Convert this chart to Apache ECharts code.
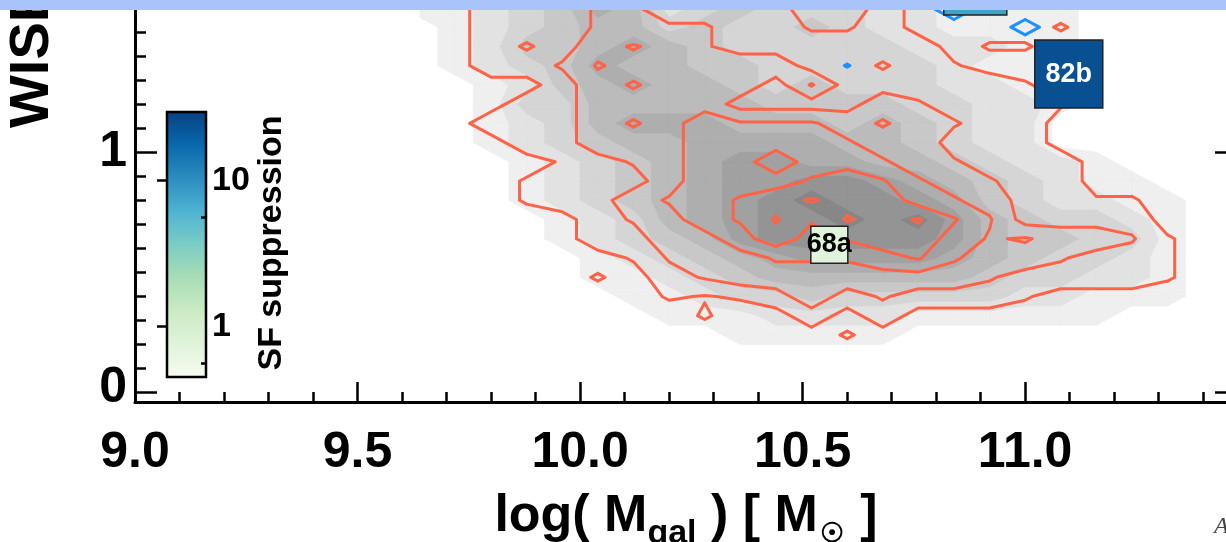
<!DOCTYPE html>
<html>
<head>
<meta charset="utf-8">
<title>SF suppression contours</title>
<script src="https://cdn.jsdelivr.net/npm/echarts@6.0.0/dist/echarts.min.js"></script>
<style>
html,body{margin:0;padding:0;background:#ffffff;}
#chart{width:1226px;height:542px;}
</style>
</head>
<body>
<div id="chart"></div>
<script>
// ================= DATA =================
const xTickLabels = [9.0, 9.5, 10.0, 10.5, 11.0];
const xMinorTicks = [9.1,9.2,9.3,9.4,9.6,9.7,9.8,9.9,10.1,10.2,10.3,10.4,10.6,10.7,10.8,10.9,11.1,11.2,11.3,11.4];
const yTickLabels = [0, 1];
const yMinorTicks = [0.1,0.2,0.3,0.4,0.5,0.6,0.7,0.8,0.9,1.1,1.2,1.3,1.4,1.5,1.6];
const sfTickLabels = [1, 10];
const sfMinorTicks = [0.56, 5.6];

// histogram grid nodes (log M_gal columns, WISE colour rows from top to bottom)
const nodeMass = [9.64,9.72,9.80,9.88,9.96,10.04,10.12,10.20,10.28,10.36,10.44,10.52,10.60,10.68,10.76,10.84,10.92,11.00,11.08,11.16,11.24,11.32,11.40,11.48];
const nodeColour = [1.68,1.60,1.52,1.44,1.36,1.28,1.20,1.12,1.04,0.96,0.88,0.80,0.72,0.64,0.56,0.48,0.40,0.32,0.24,0.16,0.08,0.00];

// parent sample density (grey filled contours)
const greyDensity = [
 [1,1,2,3,4,6,5,2,3,4,3,3,3,2,2,1,1,1,1,0,0,0,0,0],
 [1,1,2,3,4,6,5,2,3,4,3,3,3,2,2,1,1,1,1,0,0,0,0,0],
 [0,1,2,3,4,5,5,3,4,3,3,4,3,2,2,1,1,1,1,0,0,0,0,0],
 [0,1,2,4,4,5,6,5,4,3,3,3,3,3,2,2,2,1,1,0,0,0,0,0],
 [0,1,2,3,4,6,5,5,4,4,3,3,3,3,3,2,1,1,1,0,0,0,0,0],
 [0,0,1,2,4,5,6,5,5,4,3,4,3,3,3,2,2,1,1,0,0,0,0,0],
 [0,0,1,3,3,5,5,5,5,5,4,4,4,4,3,3,2,2,1,0,0,0,0,0],
 [0,0,1,2,3,5,6,6,6,5,5,5,4,5,4,3,2,2,0,0,0,0,0,0],
 [0,0,1,2,3,4,5,5,6,6,6,6,5,5,4,3,2,2,0,0,0,0,0,0],
 [0,0,0,1,2,3,4,5,6,7,7,6,6,5,5,4,3,2,2,1,0,0,0,0],
 [0,0,0,1,2,3,4,5,6,7,7,8,8,7,6,5,4,3,2,1,1,0,0,0],
 [0,0,0,1,2,3,4,5,6,7,8,9,8,8,7,6,4,3,2,2,1,1,0,0],
 [0,0,0,0,1,2,3,5,6,7,8,8,9,8,9,7,5,4,3,3,2,1,0,0],
 [0,0,0,0,1,2,3,4,5,7,8,8,8,8,8,7,5,4,4,3,3,1,0,0],
 [0,0,0,0,0,1,2,3,4,5,6,7,7,7,7,6,5,4,3,3,2,1,0,0],
 [0,0,0,0,0,1,1,2,3,4,5,5,5,5,5,5,4,3,3,2,2,1,0,0],
 [0,0,0,0,0,0,1,1,2,3,3,4,3,3,3,3,3,2,2,1,1,1,0,0],
 [0,0,0,0,0,0,0,1,1,1,2,2,2,2,1,1,1,1,1,1,0,0,0,0],
 [0,0,0,0,0,0,0,0,0,1,1,1,1,1,0,0,0,0,0,0,0,0,0,0],
 [0,0,0,0,0,0,0,0,0,0,0,0,0,0,0,0,0,0,0,0,0,0,0,0],
 [0,0,0,0,0,0,0,0,0,0,0,0,0,0,0,0,0,0,0,0,0,0,0,0],
 [0,0,0,0,0,0,0,0,0,0,0,0,0,0,0,0,0,0,0,0,0,0,0,0]
];

// comparison sample density (red contour lines)
const redDensity = [
 [0,0,2,2,2,3,3,2,2,2,2,4,4,2,0,0,0,0,0,0,0,0,0,0],
 [0,0,2,2,2,3,3,2,2,2,2,4,4,2,0,0,0,0,0,0,0,0,0,0],
 [0,0,2,2,2,3,3,3,3,2,2,3,3,2,0,0,0,0,1,0,0,0,0,0],
 [0,0,2,3,2,4,5,4,3,2,2,2,2,2,2,0,1,1,0,0,0,0,0,0],
 [0,0,2,2,3,5,4,4,4,4,4,2,2,3,2,1,0,0,0,0,0,0,0,0],
 [0,0,0,0,2,4,5,4,4,4,2,5,2,2,2,2,2,1,0,0,0,0,0,0],
 [0,0,0,2,2,4,4,4,4,2,2,2,2,4,3,2,2,2,1,0,0,0,0,0],
 [0,0,2,2,2,4,5,4,6,5,5,5,4,5,4,3,2,2,0,0,0,0,0,0],
 [0,0,0,2,2,4,4,4,6,5,6,6,5,4,4,2,2,2,0,0,0,0,0,0],
 [0,0,0,0,1,2,3,4,6,6,8,6,6,5,4,3,2,2,2,0,0,0,0,0],
 [0,0,0,1,2,2,2,4,6,6,6,7,8,7,5,4,3,2,2,0,0,0,0,0],
 [0,0,0,1,2,2,4,5,6,7,8,9,8,8,6,5,4,2,2,1,1,0,0,0],
 [0,0,0,0,0,2,3,4,6,7,9,7,9,8,9,7,5,2,2,2,2,0,0,0],
 [0,0,0,0,0,2,2,4,4,6,8,6,7,8,8,6,4.6,5,4,4,3,1,0,0],
 [0,0,0,0,0,0,1,3,4,4,5,5,5,6,7,5,4,4,3,2,2,1,0,0],
 [0,0,0,0,0,1,0,2,3,4,4,4,4,4,4,4,3,2,2,2,2,1,0,0],
 [0,0,0,0,0,0,0,1,0.7,1,2,4,2,3,2,2,2,1,0,0,0,0,0,0],
 [0,0,0,0,0,0,0,0,1,0,0,2,0,2,0,0,0,0,0,0,0,0,0,0],
 [0,0,0,0,0,0,0,0,0,0,0,0,1,0,0,0,0,0,0,0,0,0,0,0],
 [0,0,0,0,0,0,0,0,0,0,0,0,0,0,0,0,0,0,0,0,0,0,0,0],
 [0,0,0,0,0,0,0,0,0,0,0,0,0,0,0,0,0,0,0,0,0,0,0,0],
 [0,0,0,0,0,0,0,0,0,0,0,0,0,0,0,0,0,0,0,0,0,0,0,0]
];

// suppressed sample density (blue contours): [log M, colour, density]
const blueNodes = [[11.00, 1.52, 1.0], [10.84, 1.60, 1.5], [10.60, 1.36, 0.65]];

const greyLevels = [0.5,1.5,2.5,3.5,4.5,5.5,6.5,7.5,8.5];
const redLevels = [0.8,2.8,4.8,6.8,8.8];
const blueLevels = [0.6];

// labelled galaxies
const galaxyNames = ['68a', '82b', ''];
const galaxyMass = [10.560, 11.098, 10.888];
const galaxyColour = [0.615, 1.325, 1.702];
const galaxySF = [0.76, 23.8, 7.7];

// ================= STYLE =================
const FONT = "'Liberation Sans', Arial, Helvetica, sans-serif";
const X_MIN = 9.0, X_MAX = 11.476, Y_MIN = -0.039, Y_MAX = 1.633;
const SF_MIN = 0.449, SF_MAX = 29.4;
const greyShades = ['#efefef','#e2e2e2','#d5d5d5','#c8c8c8','#bbbbbb','#aeaeae','#a1a1a1','#949494','#878787'];
const GNBU = ['#f7fcf0','#e0f3db','#ccebc5','#a8ddb5','#7bccc4','#4eb3d3','#2b8cbe','#0868ac','#084081'];
const boxSize = {'68a':[37,37], '82b':[68,68], '':[63,63]};

// ================= CONTOURING =================
const blueDensity = nodeColour.map(() => nodeMass.map(() => 0));
blueNodes.forEach(([m, c, v]) => {
  const ci = nodeMass.findIndex(x => Math.abs(x - m) < 1e-6);
  const ri = nodeColour.findIndex(y => Math.abs(y - c) < 1e-6);
  if (ci >= 0 && ri >= 0) blueDensity[ri][ci] = v;
});

function corners(grid, r, c) {
  return [
    {x: nodeMass[c],   y: nodeColour[r],   v: grid[r][c]},
    {x: nodeMass[c+1], y: nodeColour[r],   v: grid[r][c+1]},
    {x: nodeMass[c+1], y: nodeColour[r+1], v: grid[r+1][c+1]},
    {x: nodeMass[c],   y: nodeColour[r+1], v: grid[r+1][c]}
  ];
}
function lerp(p, q, t) {
  const f = (t - p.v) / (q.v - p.v);
  return [p.x + f * (q.x - p.x), p.y + f * (q.y - p.y)];
}
function fillPolys(grid, t) {
  const polys = [];
  for (let r = 0; r < grid.length - 1; r++) {
    for (let c = 0; c < grid[0].length - 1; c++) {
      const k = corners(grid, r, c);
      const pts = [];
      for (let i = 0; i < 4; i++) {
        const p = k[i], q = k[(i + 1) % 4];
        if (p.v >= t) pts.push([p.x, p.y]);
        if ((p.v >= t) !== (q.v >= t)) pts.push(lerp(p, q, t));
      }
      if (pts.length >= 3) polys.push(pts);
    }
  }
  return polys;
}
function isoSegments(grid, t) {
  const segs = [];
  for (let r = 0; r < grid.length - 1; r++) {
    for (let c = 0; c < grid[0].length - 1; c++) {
      const k = corners(grid, r, c);
      const above = k.map(p => p.v >= t);
      const e = [];
      for (let i = 0; i < 4; i++) {
        const p = k[i], q = k[(i + 1) % 4];
        e.push(above[i] !== above[(i + 1) % 4] ? lerp(p, q, t) : null);
      }
      const n = e.filter(Boolean).length;
      if (n === 2) {
        const pts = e.filter(Boolean);
        segs.push([pts[0], pts[1]]);
      } else if (n === 4) {
        const mid = (k[0].v + k[1].v + k[2].v + k[3].v) / 4;
        const isolateAbove = mid < t;
        for (let j = 0; j < 4; j++) {
          if (above[j] === isolateAbove) segs.push([e[(j + 3) % 4], e[j]]);
        }
      }
    }
  }
  return segs;
}
const greyPolys = greyLevels.map(t => fillPolys(greyDensity, t));
const redSegs = redLevels.map(t => isoSegments(redDensity, t));
const blueSegs = blueLevels.map(t => isoSegments(blueDensity, t));

function pathFromPolys(api, polys, close) {
  let d = '';
  polys.forEach(poly => {
    poly.forEach((pt, i) => {
      const q = api.coord(pt);
      d += (i ? 'L' : 'M') + q[0].toFixed(2) + ' ' + q[1].toFixed(2);
    });
    if (close) d += 'Z';
  });
  return d;
}
function lineSeries(name, segSets, color, z) {
  return {
    type: 'custom', name, coordinateSystem: 'cartesian2d', xAxisIndex: 0, yAxisIndex: 0,
    z, silent: true, clip: false,
    data: segSets.map((s, i) => ({value: [i]})),
    renderItem: (params, api) => {
      const segs = segSets[params.dataIndex];
      if (!segs.length) return {type: 'group', children: []};
      return {
        type: 'path',
        shape: {pathData: pathFromPolys(api, segs, false)},
        style: {fill: 'none', stroke: color, lineWidth: 3, lineCap: 'round', lineJoin: 'round'}
      };
    }
  };
}

// ================= CHART =================
const chart = echarts.init(document.getElementById('chart'), null, {renderer: 'canvas'});
const tickStyle = {color: '#000', width: 2.5};
const gradient = new echarts.graphic.LinearGradient(0, 0, 0, 1,
  GNBU.slice().reverse().map((c, i) => ({offset: i / (GNBU.length - 1), color: c})));
const bigLabel = {fontSize: 50, fontWeight: 'bold', fontFamily: FONT, color: '#000'};

chart.setOption({
  animation: false,
  backgroundColor: '#ffffff',
  grid: [
    {left: 135, top: 0, width: 1102, height: 402, containLabel: false, outerBoundsMode: 'none', show: false},
    {left: 167, top: 112, width: 39, height: 265, containLabel: false, outerBoundsMode: 'none', show: true,
     backgroundColor: gradient, borderColor: '#000', borderWidth: 2.5}
  ],
  xAxis: [
    {gridIndex: 0, type: 'value', position: 'bottom', min: X_MIN, max: X_MAX,
     axisLine: {show: true, onZero: false, lineStyle: {color: '#000', width: 3}},
     axisTick: {show: true, inside: true, length: 20, customValues: xTickLabels, lineStyle: tickStyle},
     axisLabel: Object.assign({show: true, customValues: xTickLabels, formatter: v => v.toFixed(1), margin: 26}, bigLabel),
     splitLine: {show: false},
     name: '{a|log( M}{s|gal}{a| ) [ M}{o|\u2609}{a| ]}',
     nameLocation: 'middle', nameGap: 72,
     nameTextStyle: {
       fontSize: 52, fontWeight: 'bold', fontFamily: FONT, color: '#000',
       rich: {
         a: {fontSize: 52, fontWeight: 'bold', fontFamily: FONT, color: '#000', lineHeight: 56},
         s: {fontSize: 34, fontWeight: 'bold', fontFamily: FONT, color: '#000', lineHeight: 34, padding: [34, 0, 0, 0]},
         o: {fontSize: 27, fontWeight: 'bold', fontFamily: FONT, color: '#000', lineHeight: 30, padding: [36, 2, 0, 2]}
       }
     }},
    {gridIndex: 0, type: 'value', position: 'bottom', min: X_MIN, max: X_MAX,
     axisLine: {show: false, onZero: false},
     axisTick: {show: true, inside: true, length: 10, customValues: xMinorTicks, lineStyle: tickStyle},
     axisLabel: {show: false}, splitLine: {show: false}},
    {gridIndex: 1, type: 'value', min: 0, max: 1, show: false}
  ],
  yAxis: [
    {gridIndex: 0, type: 'value', position: 'left', min: Y_MIN, max: Y_MAX,
     axisLine: {show: true, onZero: false, lineStyle: {color: '#000', width: 3}},
     axisTick: {show: true, inside: true, length: 22, customValues: yTickLabels, lineStyle: tickStyle},
     axisLabel: Object.assign({show: true, customValues: yTickLabels, margin: 8,
       formatter: v => (Math.round(v) === 0 ? '{z|0}' : '{n|' + Math.round(v) + '}'),
       rich: {z: Object.assign({padding: [0, 0, 9, 0]}, bigLabel), n: Object.assign({}, bigLabel)}}, bigLabel),
     splitLine: {show: false}},
    {gridIndex: 0, type: 'value', position: 'left', min: Y_MIN, max: Y_MAX,
     axisLine: {show: false, onZero: false},
     axisTick: {show: true, inside: true, length: 11, customValues: yMinorTicks, lineStyle: tickStyle},
     axisLabel: {show: false}, splitLine: {show: false}},
    {gridIndex: 0, type: 'value', position: 'right', min: Y_MIN, max: Y_MAX,
     axisLine: {show: true, onZero: false, lineStyle: {color: '#000', width: 3}},
     axisTick: {show: true, inside: true, length: 22, customValues: yTickLabels, lineStyle: tickStyle},
     axisLabel: {show: false}, splitLine: {show: false}},
    {gridIndex: 1, type: 'value', position: 'right', min: Math.log10(SF_MIN), max: Math.log10(SF_MAX),
     axisLine: {show: false},
     axisTick: {show: true, inside: true, length: 10, customValues: sfTickLabels.map(Math.log10), lineStyle: tickStyle},
     axisLabel: {show: true, customValues: sfTickLabels.map(Math.log10),
       formatter: v => String(Math.round(Math.pow(10, v))),
       fontSize: 34, fontWeight: 'bold', fontFamily: FONT, color: '#000', margin: 6},
     splitLine: {show: false}},
    {gridIndex: 1, type: 'value', position: 'right', min: Math.log10(SF_MIN), max: Math.log10(SF_MAX),
     axisLine: {show: false},
     axisTick: {show: true, inside: true, length: 5, customValues: sfMinorTicks.map(Math.log10), lineStyle: tickStyle},
     axisLabel: {show: false}, splitLine: {show: false}}
  ],
  visualMap: [{
    type: 'continuous', show: false, seriesIndex: 3, dimension: 2,
    min: Math.log10(SF_MIN), max: Math.log10(SF_MAX),
    inRange: {color: GNBU}
  }],
  series: [
    {
      type: 'custom', name: 'parent', coordinateSystem: 'cartesian2d', xAxisIndex: 0, yAxisIndex: 0,
      z: 1, silent: true, clip: false,
      data: greyLevels.map((t, i) => ({value: [i]})),
      renderItem: (params, api) => {
        const polys = greyPolys[params.dataIndex];
        if (!polys.length) return {type: 'group', children: []};
        const col = greyShades[params.dataIndex];
        return {type: 'path', shape: {pathData: pathFromPolys(api, polys, true)},
                style: {fill: col, stroke: col, lineWidth: 0.6}};
      }
    },
    lineSeries('comparison', redSegs, '#ff6347', 2),
    lineSeries('suppressed', blueSegs, '#1e90ff', 3),
    {
      type: 'scatter', name: 'galaxies', xAxisIndex: 0, yAxisIndex: 0, z: 5, clip: false,
      symbol: 'rect',
      data: galaxyNames.map((n, i) => ({
        name: n,
        value: [galaxyMass[i], galaxyColour[i], Math.log10(galaxySF[i])],
        symbolSize: boxSize[n],
        label: {color: galaxySF[i] > 5 ? '#ffffff' : '#000000'}
      })),
      itemStyle: {borderColor: '#222', borderWidth: 1.5, opacity: 1},
      label: {show: true, position: 'inside', formatter: '{b}', fontSize: 27, fontWeight: 'bold', fontFamily: FONT}
    }
  ],
  graphic: [
    {type: 'rect', z: 100, shape: {x: 0, y: 0, width: 1226, height: 10}, style: {fill: '#a9c4fb'}},
    {type: 'text', z: 50, x: 33, y: 128, rotation: Math.PI / 2,
     style: {text: 'WISE W1\u2212W2', fontSize: 56, fontWeight: 'bold', fontFamily: FONT, fill: '#000',
             align: 'left', verticalAlign: 'middle', textAlign: 'left', textVerticalAlign: 'middle'}},
    {type: 'text', z: 50, x: 272, y: 243, rotation: Math.PI / 2,
     style: {text: 'SF suppression', fontSize: 34, fontWeight: 'bold', fontFamily: FONT, fill: '#000',
             align: 'center', verticalAlign: 'middle', textAlign: 'center', textVerticalAlign: 'middle'}},
    {type: 'text', z: 50, x: 1214, y: 527,
     style: {text: 'A', fontSize: 24, fontStyle: 'italic', fontFamily: "'Liberation Serif', serif", fill: '#444',
             align: 'left', verticalAlign: 'middle', textAlign: 'left', textVerticalAlign: 'middle'}}
  ]
});
</script>
</body>
</html>
